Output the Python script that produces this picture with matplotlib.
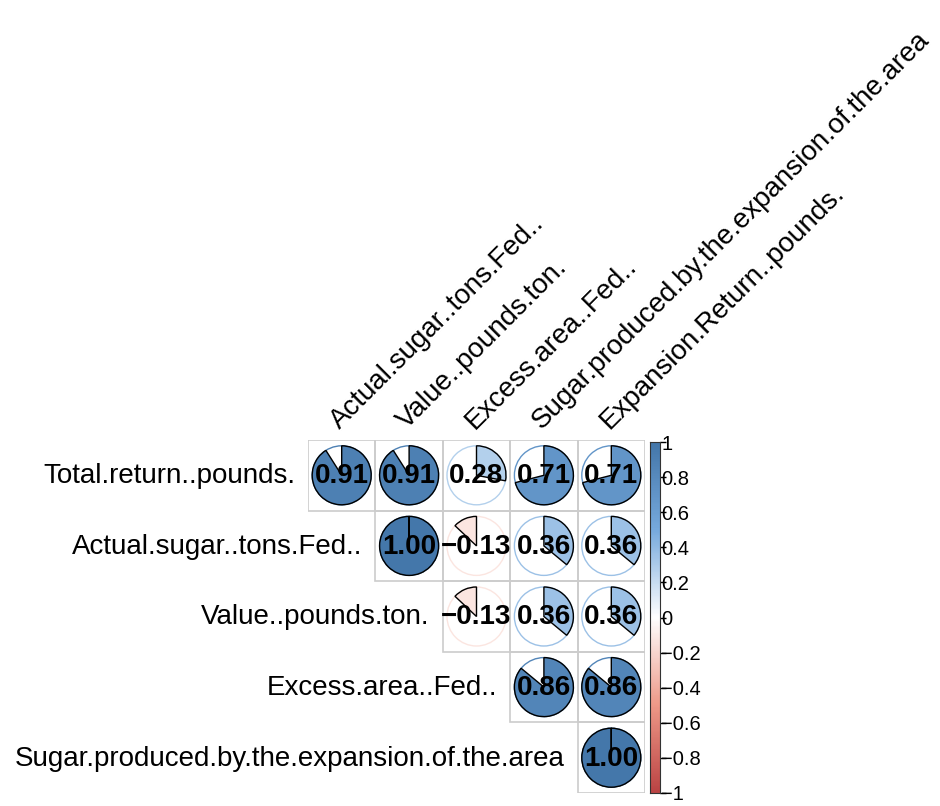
import numpy as np
import matplotlib
matplotlib.use("Agg")
import matplotlib.pyplot as plt
from matplotlib.colors import LinearSegmentedColormap, Normalize
from matplotlib.patches import Wedge, Circle, Rectangle

plt.rcParams['font.family'] = ['Liberation Sans', 'DejaVu Sans']

row_names = ["Total.return..pounds.", "Actual.sugar..tons.Fed..", "Value..pounds.ton.",
             "Excess.area..Fed..", "Sugar.produced.by.the.expansion.of.the.area"]
col_names = ["Actual.sugar..tons.Fed..", "Value..pounds.ton.", "Excess.area..Fed..",
             "Sugar.produced.by.the.expansion.of.the.area", "Expansion.Return..pounds."]
corr = [
    [0.91, 0.91, 0.28, 0.71, 0.71],
    [None, 1.00, -0.13, 0.36, 0.36],
    [None, None, -0.13, 0.36, 0.36],
    [None, None, None, 0.86, 0.86],
    [None, None, None, None, 1.00],
]
bar_ticks = [1, 0.8, 0.6, 0.4, 0.2, 0, -0.2, -0.4, -0.6, -0.8, -1]

cmap = LinearSegmentedColormap.from_list(
    "corr", ["#BB4444", "#EE9988", "#FFFFFF", "#77AADD", "#4477AA"])
norm = Normalize(-1, 1)

W, H = 940, 806
fig = plt.figure(figsize=(W / 100, H / 100), dpi=100)

# grid area in pixels
gx0, gx1, gy0, gy1 = 308, 645, 440, 793
cw = (gx1 - gx0) / 5.0
ch = (gy1 - gy0) / 5.0
h = ch / cw  # cell height in cell-width units
n = len(corr)

ax = fig.add_axes([gx0 / W, (H - gy1) / H, (gx1 - gx0) / W, (gy1 - gy0) / H])
ax.set_xlim(0, 5)
ax.set_ylim(0, 5 * h)
ax.axis('off')

px = 1.0 / cw  # one pixel in data units
r = 29.5 * px

for i in range(n):
    yc = (n - 1 - i) * h + h / 2
    for j in range(n):
        v = corr[i][j]
        if v is None:
            continue
        xc = j + 0.5
        ax.add_patch(Rectangle((j, (n - 1 - i) * h), 1, h, fill=False,
                               edgecolor='#cccccc', lw=1.2, zorder=1))
        col = cmap(norm(v))
        ax.add_patch(Circle((xc, yc), r, facecolor='white', edgecolor=col,
                            lw=1.0, zorder=2))
        span = min(360 * abs(v), 359.99)
        if v >= 0:
            t1, t2 = 90 - span, 90
        else:
            t1, t2 = 90, 90 + span
        ax.add_patch(Wedge((xc, yc), r, t1, t2, facecolor=col,
                           edgecolor='black', lw=1.0, zorder=3))
        ax.text(xc, yc - 8 * px, ("%.2f" % v).replace('-', '\u2212'),
                ha='center', va='baseline', fontsize=20, fontweight='bold',
                color='black', zorder=4, clip_on=False)
    ax.text(i - 13 * px, yc - 8 * px, row_names[i], ha='right', va='baseline',
            fontsize=20, color='black', clip_on=False)

for j, name in enumerate(col_names):
    ax.text(j + 0.5 - 2 * px, 5 * h + 10 * px, name, rotation=45,
            rotation_mode='anchor', ha='left', va='baseline',
            fontsize=20, color='black', clip_on=False)

# colour bar
bx0, bx1, by0, by1 = 650, 660, 442, 793
cax = fig.add_axes([bx0 / W, (H - by1) / H, (bx1 - bx0) / W, (by1 - by0) / H])
grad = np.linspace(-1, 1, 200).reshape(-1, 1)
cax.imshow(grad, cmap=cmap, norm=norm, aspect='auto', origin='lower',
           extent=[0, 1, -1, 1])
cax.set_xticks([])
cax.yaxis.tick_right()
cax.set_yticks(bar_ticks)
cax.set_yticklabels([("%g" % t).replace('-', '\u2212') for t in bar_ticks])
cax.tick_params(axis='y', length=4, width=1, pad=-3, labelsize=14.5,
                colors='black')
for s in cax.spines.values():
    s.set_linewidth(0.8)
    s.set_color('#333333')

fig.savefig("out.png", dpi=100, facecolor='white')
